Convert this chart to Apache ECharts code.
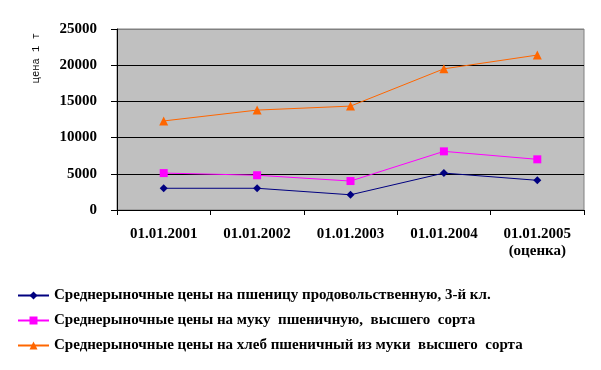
<!DOCTYPE html>
<html>
<head>
<meta charset="utf-8">
<script src="https://cdn.jsdelivr.net/npm/echarts@6/dist/echarts.min.js"></script>
<style>html,body{margin:0;padding:0;background:#fff}#c{width:601px;height:370px}</style>
</head>
<body>
<div id="c"></div>
<script>
const categories = ['01.01.2001', '01.01.2002', '01.01.2003', '01.01.2004', '01.01.2005\n(оценка)'];
const wheatPrices = [3000, 3000, 2100, 5100, 4100];
const flourPrices = [5100, 4800, 4000, 8100, 7000];
const breadPrices = [12300, 13800, 14350, 19500, 21400];
const seriesNames = [
  'Среднерыночные цены на пшеницу продовольственную, 3-й кл.',
  'Среднерыночные цены на муку  пшеничную,  высшего  сорта',
  'Среднерыночные цены на хлеб пшеничный из муки  высшего  сорта'
];
const yTicks = [0, 5000, 10000, 15000, 20000, 25000];
const yTitle = 'цена 1 т';

const serif = 'Liberation Serif';
const chart = echarts.init(document.getElementById('c'), null, {renderer: 'canvas'});
chart.setOption({
  backgroundColor: '#ffffff',
  animation: false,
  grid: {left: 117, right: 17, top: 29, bottom: 160, show: true, backgroundColor: '#c0c0c0', borderColor: '#808080', borderWidth: 1},
  legend: {
    orient: 'vertical', left: 17, top: 288, padding: 0, itemWidth: 31, itemHeight: 10, itemGap: 10,
    textStyle: {fontFamily: serif, fontWeight: 'bold', fontSize: 15, color: '#000'},
    data: seriesNames
  },
  graphic: [{
    type: 'text', left: 31, top: 33, rotation: Math.PI / 2,
    style: {text: yTitle, fontFamily: 'Liberation Mono', fontSize: 10.5, fill: '#000'}
  }],
  xAxis: {
    type: 'category', data: categories, boundaryGap: true,
    axisLine: {lineStyle: {color: '#000', width: 1}},
    axisTick: {show: true, length: 5, lineStyle: {color: '#000'}},
    axisLabel: {fontFamily: serif, fontWeight: 'bold', fontSize: 15, color: '#000', margin: 16, lineHeight: 17, interval: 0}
  },
  yAxis: {
    type: 'value', min: yTicks[0], max: yTicks[yTicks.length - 1], interval: yTicks[1] - yTicks[0],
    axisLine: {show: true, lineStyle: {color: '#000', width: 1}},
    axisTick: {show: true, length: 6, lineStyle: {color: '#000'}},
    axisLabel: {fontFamily: serif, fontWeight: 'bold', fontSize: 15, color: '#000', margin: 20,
                formatter: v => String(v)},
    splitLine: {show: true, lineStyle: {color: ['#000', '#000', '#000', '#000', '#000', '#808080'], width: 1}}
  },
  series: [
    {name: seriesNames[0], type: 'line', data: wheatPrices, symbol: 'diamond', symbolSize: 8,
     itemStyle: {color: '#000080'}, lineStyle: {color: '#000080', width: 1}},
    {name: seriesNames[1], type: 'line', data: flourPrices, symbol: 'rect', symbolSize: 8,
     itemStyle: {color: '#ff00ff'}, lineStyle: {color: '#ff00ff', width: 1}},
    {name: seriesNames[2], type: 'line', data: breadPrices, symbol: 'triangle', symbolSize: 9,
     itemStyle: {color: '#ff6600'}, lineStyle: {color: '#ff6600', width: 1}}
  ]
});
</script>
</body>
</html>
